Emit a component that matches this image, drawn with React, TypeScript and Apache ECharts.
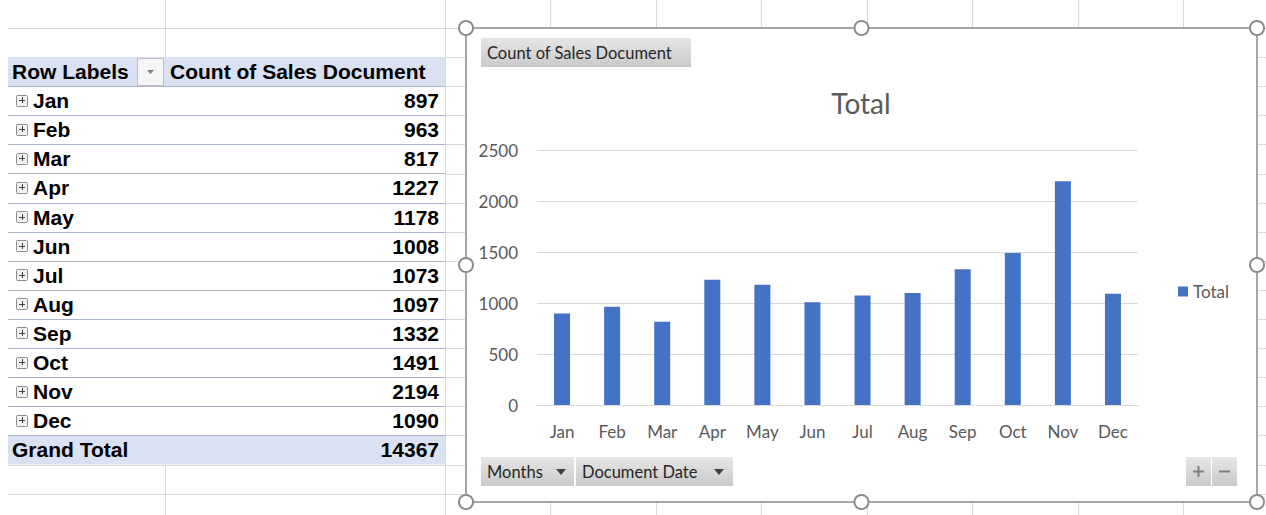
import React, { useEffect, useRef } from 'react';
import * as echarts from 'echarts';

const months = ['Jan', 'Feb', 'Mar', 'Apr', 'May', 'Jun', 'Jul', 'Aug', 'Sep', 'Oct', 'Nov', 'Dec'];
const counts = [897, 963, 817, 1227, 1178, 1008, 1073, 1097, 1332, 1491, 2194, 1090];
const yTicks = [0, 500, 1000, 1500, 2000, 2500];
const seriesName = 'Total';
const chartTitle = 'Total';
const tableHeaders = ['Row Labels', 'Count of Sales Document'];
const grandTotalLabel = 'Grand Total';
const valueButton = 'Count of Sales Document';
const fieldButtons = ['Months', 'Document Date'];

const TABLE_FONT = '"Liberation Sans", Arial, sans-serif';
const CHART_FONT = 'Lato, "Open Sans", sans-serif';
const TEXT_GREY = '#595959';

export default function App() {
  const ref = useRef<HTMLDivElement>(null);

  useEffect(() => {
    const chart = echarts.init(ref.current!, null, { renderer: 'svg' });
    const g: any[] = [];
    const rowH = 29.1;
    const gridColor = '#D9D9D9';

    // Excel sheet grid
    for (let k = 0; k <= 16; k++) {
      const y = Math.round(28 + k * rowH) + 0.5;
      g.push({ type: 'line', z: -10, shape: { x1: 8, y1: y, x2: 1266, y2: y }, style: { stroke: gridColor, lineWidth: 1 } });
    }
    [165, 445, 550, 656, 761, 867, 972, 1078, 1183].forEach((x) => {
      g.push({ type: 'line', z: -10, shape: { x1: x + 0.5, y1: 0, x2: x + 0.5, y2: 515 }, style: { stroke: gridColor, lineWidth: 1 } });
    });

    // Pivot table
    const tTop = 57;
    g.push({ type: 'rect', z: -9, shape: { x: 8, y: tTop, width: 437, height: rowH * 14 }, style: { fill: '#ffffff' } });
    g.push({ type: 'rect', z: -8, shape: { x: 8, y: tTop, width: 437, height: rowH }, style: { fill: '#D9E1F2' } });
    g.push({ type: 'rect', z: -8, shape: { x: 8, y: tTop + rowH * 13, width: 437, height: rowH }, style: { fill: '#D9E1F2' } });
    for (let i = 1; i <= 13; i++) {
      const y = Math.round(tTop + rowH * i) + 0.5;
      g.push({ type: 'line', z: -7, shape: { x1: 8, y1: y, x2: 445, y2: y }, style: { stroke: '#A9B6CB', lineWidth: 1 } });
    }
    const txt = (text: string, x: number, y: number, opts: any = {}) => ({
      type: 'text',
      z: 5,
      x,
      y,
      style: {
        text,
        fill: opts.fill || '#000000',
        fontSize: opts.fontSize || 21,
        fontWeight: opts.fontWeight || 'bold',
        fontFamily: opts.fontFamily || TABLE_FONT,
        align: opts.align || 'left',
        textAlign: opts.align || 'left',
        verticalAlign: 'middle',
        textVerticalAlign: 'middle',
      },
    });
    const headY = tTop + rowH / 2;
    g.push(txt(tableHeaders[0], 12, headY));
    g.push(txt(tableHeaders[1], 170, headY));
    // filter dropdown button
    g.push({ type: 'rect', z: 4, shape: { x: 137.5, y: 58.5, width: 26, height: 27 }, style: { fill: '#F5F5F5', stroke: '#BFBFBF', lineWidth: 1 } });
    g.push({ type: 'polygon', z: 5, shape: { points: [[147, 70], [154, 70], [150.5, 74]] }, style: { fill: '#808080' } });

    months.forEach((m, i) => {
      const cy = tTop + rowH * (i + 1) + rowH / 2;
      g.push({ type: 'rect', z: 4, shape: { x: 16.5, y: Math.round(cy - 6) + 0.5, width: 11, height: 11, r: 1 }, style: { fill: '#F2F2F2', stroke: '#8C8C8C', lineWidth: 1 } });
      g.push({ type: 'line', z: 5, shape: { x1: 19, y1: Math.round(cy - 0.5) + 0.5, x2: 25, y2: Math.round(cy - 0.5) + 0.5 }, style: { stroke: '#404040', lineWidth: 1 } });
      g.push({ type: 'line', z: 5, shape: { x1: 22.5, y1: Math.round(cy - 3.5), x2: 22.5, y2: Math.round(cy + 2.5) }, style: { stroke: '#404040', lineWidth: 1 } });
      g.push(txt(m, 33, cy));
      g.push(txt(String(counts[i]), 439, cy, { align: 'right' }));
    });
    const gtY = tTop + rowH * 13 + rowH / 2;
    g.push(txt(grandTotalLabel, 12, gtY));
    g.push(txt(String(counts.reduce((a, b) => a + b, 0)), 439, gtY, { align: 'right' }));

    // Chart area frame
    const cL = 466, cT = 28, cR = 1257, cB = 502;
    g.push({ type: 'rect', z: -8, shape: { x: cL, y: cT, width: cR - cL, height: cB - cT }, style: { fill: '#ffffff', stroke: '#A6A6A6', lineWidth: 2 } });
    const midX = (cL + cR) / 2, midY = (cT + cB) / 2;
    [[cL, cT], [midX, cT], [cR, cT], [cL, midY], [cR, midY], [cL, cB], [midX, cB], [cR, cB]].forEach(([x, y]) => {
      g.push({ type: 'circle', z: 10, shape: { cx: x, cy: y, r: 7 }, style: { fill: '#ffffff', stroke: '#8C8C8C', lineWidth: 2 } });
    });

    const btnFill = {
      type: 'linear', x: 0, y: 0, x2: 0, y2: 1,
      colorStops: [{ offset: 0, color: '#E6E6E6' }, { offset: 1, color: '#C9C9C9' }],
    };
    const button = (x: number, y: number, w: number, h: number) => ({
      type: 'rect', z: 4, shape: { x, y, width: w, height: h }, style: { fill: btnFill },
    });
    const ctxt = (text: string, x: number, y: number, opts: any = {}) =>
      txt(text, x, y, { fontWeight: 'normal', fontFamily: CHART_FONT, fill: opts.fill || '#262626', fontSize: opts.fontSize || 16.5, align: opts.align });
    const arrow = (cx: number, cy: number) => ({
      type: 'polygon', z: 5, shape: { points: [[cx - 5, cy - 3], [cx + 5, cy - 3], [cx, cy + 3]] }, style: { fill: '#404040' },
    });

    g.push(button(481, 38, 210, 29));
    g.push(ctxt(valueButton, 487, 53));

    g.push(button(481, 457, 93, 29));
    g.push(ctxt(fieldButtons[0], 487, 472));
    g.push(arrow(561, 472));
    g.push(button(576, 457, 157, 29));
    g.push(ctxt(fieldButtons[1], 582, 472));
    g.push(arrow(719, 472));

    g.push(button(1186, 457, 25, 29));
    g.push(button(1212, 457, 25, 29));
    g.push({ type: 'line', z: 5, shape: { x1: 1193, y1: 471.5, x2: 1204, y2: 471.5 }, style: { stroke: '#7F7F7F', lineWidth: 2 } });
    g.push({ type: 'line', z: 5, shape: { x1: 1198.5, y1: 466, x2: 1198.5, y2: 477 }, style: { stroke: '#7F7F7F', lineWidth: 2 } });
    g.push({ type: 'line', z: 5, shape: { x1: 1219, y1: 471.5, x2: 1230, y2: 471.5 }, style: { stroke: '#7F7F7F', lineWidth: 2 } });

    g.push(ctxt(chartTitle, 861, 103, { fontSize: 28, fill: TEXT_GREY, align: 'center' }));

    chart.setOption({
      animation: false,
      graphic: { elements: g },
      grid: { left: 537, top: 150, width: 601, height: 255, containLabel: false },
      legend: {
        left: 1173,
        top: 278,
        icon: 'rect',
        itemWidth: 10,
        itemHeight: 10,
        data: [seriesName],
        textStyle: { fontSize: 17, color: TEXT_GREY, fontFamily: CHART_FONT },
      },
      xAxis: {
        type: 'category',
        data: months,
        axisLine: { show: true, lineStyle: { color: '#D9D9D9', width: 1 } },
        axisTick: { show: false },
        axisLabel: { color: TEXT_GREY, fontSize: 17, fontFamily: CHART_FONT, margin: 18, interval: 0 },
      },
      yAxis: {
        type: 'value',
        min: yTicks[0],
        max: yTicks[yTicks.length - 1],
        interval: yTicks[1] - yTicks[0],
        axisLine: { show: false },
        axisTick: { show: false },
        axisLabel: { color: TEXT_GREY, fontSize: 17, fontFamily: CHART_FONT, margin: 19, formatter: (v: number) => String(v) },
        splitLine: { lineStyle: { color: '#D9D9D9', width: 1 } },
      },
      series: [
        {
          name: seriesName,
          type: 'bar',
          data: counts,
          barWidth: 16,
          itemStyle: { color: '#4472C4' },
        },
      ],
    });
    return () => chart.dispose();
  }, []);

  return <div ref={ref} style={{ position: 'absolute', left: 0, top: 0, width: 1266, height: 515 }} />;
}
